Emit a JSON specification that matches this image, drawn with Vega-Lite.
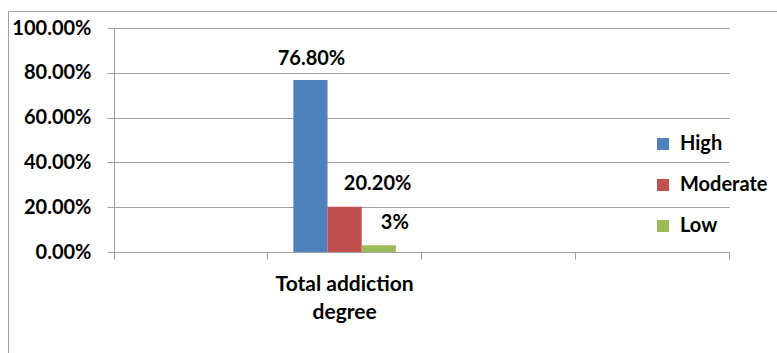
{
  "$schema": "https://vega.github.io/schema/vega-lite/v6.json",
  "width": 615,
  "height": 224,
  "autosize": {"type": "none"},
  "padding": {"left": 114, "top": 28, "right": 48, "bottom": 101},
  "background": "#ffffff",
  "config": {
    "view": {"stroke": null},
    "font": "Lato",
    "axis": {"labelFont": "Lato", "labelFontWeight": "bold", "labelFontSize": 20, "labelColor": "#000000", "domainColor": "#a0a0a0", "tickColor": "#a0a0a0", "gridColor": "#a0a0a0", "domainWidth": 1, "tickWidth": 1, "gridWidth": 1}
  },
  "data": {
    "values": [
      {"category": "Total addiction degree", "level": "High", "value": 0.768, "label": "76.80%"},
      {"category": "Total addiction degree", "level": "Moderate", "value": 0.202, "label": "20.20%"},
      {"category": "Total addiction degree", "level": "Low", "value": 0.03, "label": "3%"}
    ]
  },
  "layer": [
    {
      "encoding": {
        "x": {
          "field": "category",
          "type": "nominal",
          "scale": {"domain": [" ", "Total addiction degree", "  ", "   "], "paddingInner": 0, "paddingOuter": 0},
          "axis": {
            "title": null,
            "orient": "bottom",
            "bandPosition": 0,
            "labelAngle": 0,
            "labelAlign": "center",
            "labelBaseline": "top",
            "labelFontSize": 21,
            "labelLineHeight": 28,
            "labelPadding": 14,
            "labelOverlap": false,
            "labelBound": false,
            "labelExpr": "datum.value == 'Total addiction degree' ? ['Total addiction', 'degree'] : ''",
            "tickSize": 7,
            "grid": false
          }
        },
        "xOffset": {
          "field": "level",
          "type": "nominal",
          "sort": ["High", "Moderate", "Low"],
          "scale": {"domain": ["High", "Moderate", "Low"], "paddingInner": 0, "paddingOuter": 0.75}
        },
        "y": {
          "field": "value",
          "type": "quantitative",
          "scale": {"domain": [0, 1], "nice": false},
          "axis": {
            "title": null,
            "values": [0, 0.2, 0.4, 0.6, 0.8, 1],
            "format": ".2%",
            "grid": true,
            "tickSize": 7,
            "labelPadding": 16
          }
        }
      },
      "layer": [
        {
          "mark": {"type": "bar"},
          "encoding": {
            "color": {
              "field": "level",
              "type": "nominal",
              "sort": ["High", "Moderate", "Low"],
              "scale": {"domain": ["High", "Moderate", "Low"], "range": ["#4F81BD", "#C0504D", "#9BBB59"]},
              "legend": {
                "title": "\u00a0",
                "titleOrient": "left",
                "titleFontSize": 1,
                "titlePadding": 522,
                "orient": "none",
                "legendX": -106,
                "legendY": -17,
                "padding": 123,
                "strokeColor": "#a0a0a0",
                "symbolType": "square",
                "symbolSize": 144,
                "symbolStrokeWidth": 0,
                "labelFont": "Lato",
                "labelFontWeight": "bold",
                "labelFontSize": 20,
                "labelColor": "#000000",
                "labelOffset": 7,
                "rowPadding": 21
              }
            }
          }
        },
        {
          "transform": [{"filter": "datum.level == 'High'"}],
          "mark": {"type": "text", "font": "Lato", "fontWeight": "bold", "fontSize": 20, "color": "#000000", "baseline": "middle", "dy": -21, "dx": 1},
          "encoding": {"text": {"field": "label"}}
        },
        {
          "transform": [{"filter": "datum.level == 'Moderate'"}],
          "mark": {"type": "text", "font": "Lato", "fontWeight": "bold", "fontSize": 20, "color": "#000000", "baseline": "middle", "dy": -22.5, "dx": 33},
          "encoding": {"text": {"field": "label"}}
        },
        {
          "transform": [{"filter": "datum.level == 'Low'"}],
          "mark": {"type": "text", "font": "Lato", "fontWeight": "bold", "fontSize": 20, "color": "#000000", "baseline": "middle", "dy": -22.5, "dx": 16},
          "encoding": {"text": {"field": "label"}}
        }
      ]
    },
    {
      "mark": {"type": "rule", "opacity": 0},
      "encoding": {
        "x": {
          "datum": 4,
          "type": "quantitative",
          "scale": {"domain": [0, 4], "nice": false},
          "axis": {"orient": "bottom", "title": null, "values": [4], "labels": false, "domain": false, "grid": false, "tickSize": 7, "tickColor": "#a0a0a0"}
        }
      }
    }
  ],
  "resolve": {"scale": {"x": "independent"}, "axis": {"x": "independent"}}
}
